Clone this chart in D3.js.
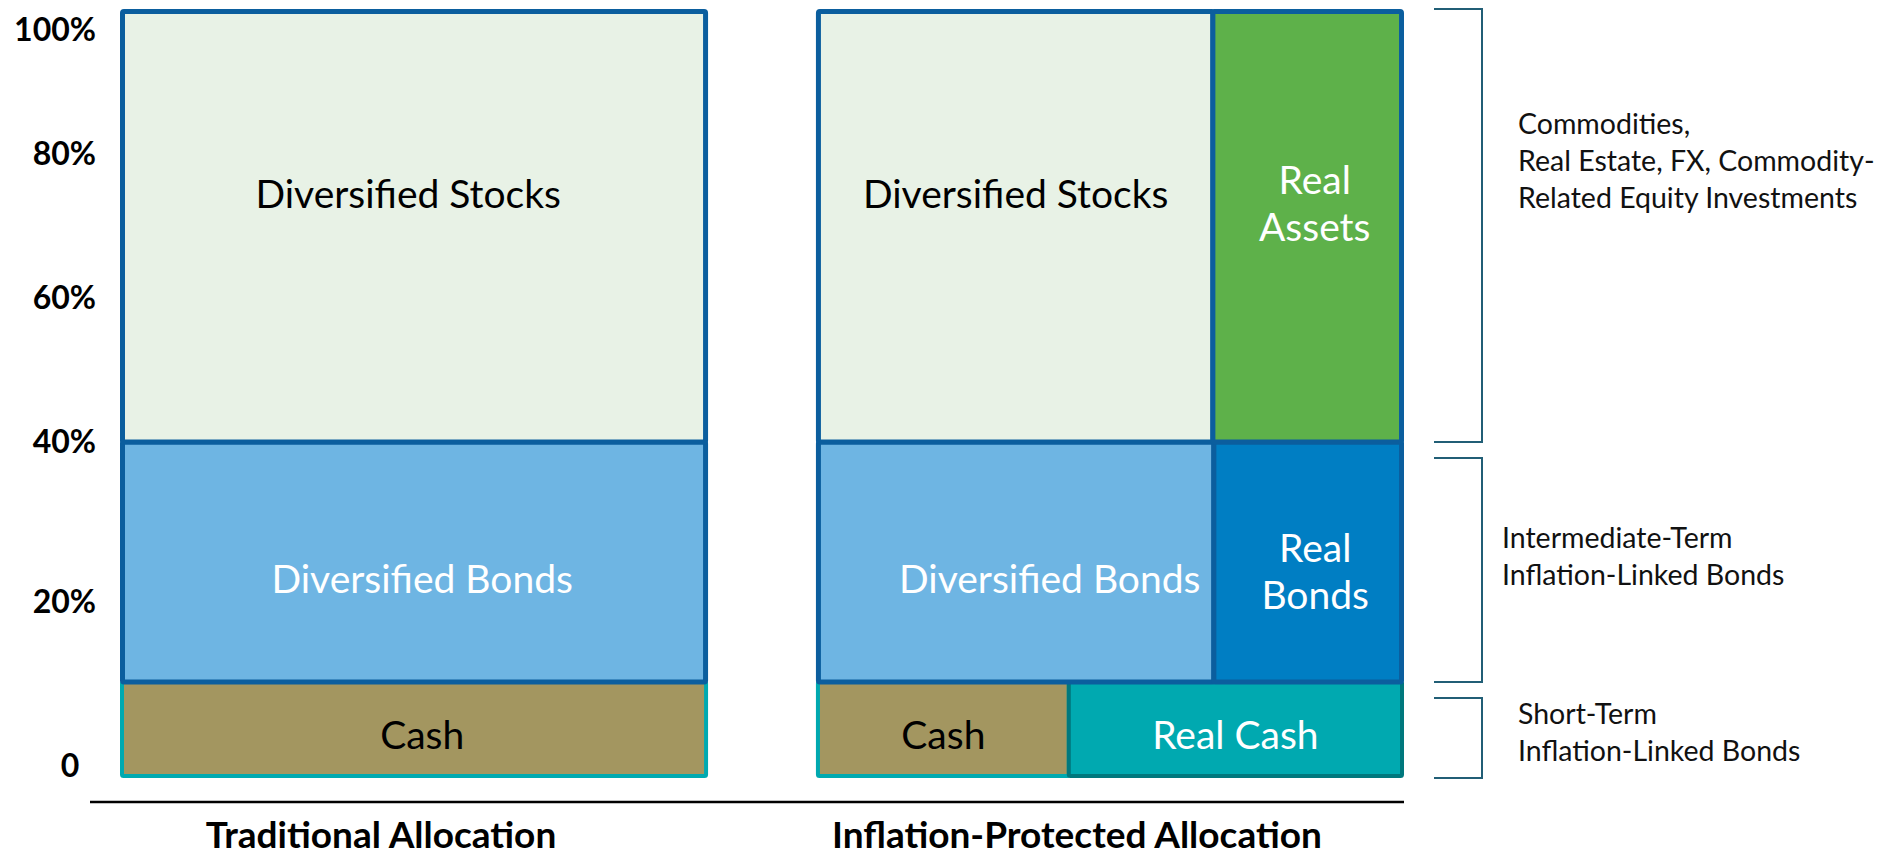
<!DOCTYPE html>
<html>
<head>
<meta charset="utf-8">
<script src="https://cdn.jsdelivr.net/npm/d3@7"></script>
<style>
  body { margin: 0; background: #fff; }
  text { font-family: Lato, "Open Sans", sans-serif; }
</style>
</head>
<body>
<script>
// the two portfolios, side by side
var allocations = ["Traditional Allocation", "Inflation-Protected Allocation"];

// tiers from bottom to top and their share of the portfolio (%)
var tiers = ["Cash", "Bonds", "Stocks"];
var tierShares = [10, 30, 60];

// traditional allocation: one block per tier
var traditionalLabels = ["Cash", "Diversified Bonds", "Diversified Stocks"];
var traditionalValues = [10, 30, 60];
var traditionalTier = [0, 1, 2];

// inflation-protected allocation: every tier is split in two
var protectedLabels = ["Cash", "Real Cash", "Diversified Bonds", "Real Bonds", "Diversified Stocks", "Real Assets"];
var protectedValues = [4.3, 5.7, 20.3, 9.7, 40.5, 19.5];
var protectedTier = [0, 0, 1, 1, 2, 2];

// y axis labels
var tickValues = [0, 20, 40, 60, 80, 100];

// brackets on the right (cumulative %)
var bracketFrom = [40, 10, 0];
var bracketTo = [100, 40, 10];
var bracketText = [
    ["Commodities,", "Real Estate, FX, Commodity-", "Related Equity Investments"],
    ["Intermediate-Term", "Inflation-Linked Bonds"],
    ["Short-Term", "Inflation-Linked Bonds"]
];

// ---- layout / style ----
var width = 1887, height = 858;
var plotTop = 9, plotBottom = 778;
var tierWeights = [0.125, 0.312, 0.563];   // drawn heights of the tiers (not to scale)

var fills = {
    "Diversified Stocks": "#E8F2E6",
    "Diversified Bonds": "#6EB5E3",
    "Cash": "#A39660",
    "Real Assets": "#5EB14A",
    "Real Bonds": "#007EC3",
    "Real Cash": "#00A9B0"
};
var strokes = { "Cash": "#00A9B0", "Real Cash": "#00787D" };
var darkText = { "Diversified Stocks": true, "Cash": true };
var wrapped = { "Real Assets": true, "Real Bonds": true };

// where the label sits inside its block [fraction across, fraction down]
var labelAnchor = {
    "Traditional Allocation|Diversified Stocks": [0.49, 0.425],
    "Traditional Allocation|Diversified Bonds": [0.514, 0.57],
    "Traditional Allocation|Cash": [0.514, 0.56],
    "Inflation-Protected Allocation|Diversified Stocks": [0.5, 0.425],
    "Inflation-Protected Allocation|Real Assets": [0.54, 0.447],
    "Inflation-Protected Allocation|Diversified Bonds": [0.585, 0.57],
    "Inflation-Protected Allocation|Real Bonds": [0.54, 0.54],
    "Inflation-Protected Allocation|Cash": [0.5, 0.56],
    "Inflation-Protected Allocation|Real Cash": [0.5, 0.56]
};
var bracketTextAt = [79, 25.7, 4.8];
var bracketTextDx = [0, -16, 0];

var svg = d3.select("body").append("svg")
    .attr("width", width)
    .attr("height", height);

var x = d3.scaleBand()
    .domain(allocations)
    .range([120, 1404])
    .paddingInner(0.155);
var bw = x.bandwidth();

// cumulative tier boundaries -> piecewise y scale
var cum = [0];
tierShares.forEach(function(s, i) { cum.push(cum[i] + s); });
var cumW = [0];
tierWeights.forEach(function(w, i) { cumW.push(cumW[i] + w); });
var y = d3.scaleLinear()
    .domain(cum)
    .range(cumW.map(function(w) { return plotBottom - w * (plotBottom - plotTop); }));

function buildSegments(alloc, labels, values, tierIdx) {
    var offset = {};
    return labels.map(function(label, i) {
        var t = tierIdx[i];
        var start = offset[t] || 0;
        offset[t] = start + values[i];
        return { alloc: alloc, label: label, tier: t, v0: start, v1: start + values[i] };
    });
}

var segments = buildSegments(allocations[0], traditionalLabels, traditionalValues, traditionalTier)
    .concat(buildSegments(allocations[1], protectedLabels, protectedValues, protectedTier));
segments.sort(function(a, b) { return a.tier - b.tier; });

// only the outer edges are pulled in by half a stroke, inner edges share one line
var eps = 1e-6;
segments.forEach(function(d) {
    var share = tierShares[d.tier];
    var xs = d3.scaleLinear().domain([0, share]).range([x(d.alloc), x(d.alloc) + bw]);
    d.sw = d.tier === 0 ? 4 : 5;
    var h = d.sw / 2;
    d.x0 = xs(d.v0) + (d.v0 < eps ? h : 0);
    d.x1 = xs(d.v1) - (d.v1 > share - eps ? h : 0);
    d.y0 = y(cum[d.tier + 1]) + (d.tier === tiers.length - 1 ? h : 0);
    d.y1 = y(cum[d.tier]) - (d.tier === 0 ? h : 0);
});

var blocks = svg.append("g").selectAll("g.block")
    .data(segments)
    .enter().append("g")
    .attr("class", "block");

blocks.append("rect")
    .attr("x", function(d) { return d.x0; })
    .attr("y", function(d) { return d.y0; })
    .attr("width", function(d) { return d.x1 - d.x0; })
    .attr("height", function(d) { return d.y1 - d.y0; })
    .attr("rx", 1.5)
    .attr("fill", function(d) { return fills[d.label]; })
    .attr("stroke", function(d) { return strokes[d.label] || "#0B5E9E"; })
    .attr("stroke-width", function(d) { return d.sw; });

var labelSize = 39;
blocks.append("text")
    .attr("text-anchor", "middle")
    .attr("font-size", labelSize)
    .attr("fill", function(d) { return darkText[d.label] ? "#000" : "#fff"; })
    .each(function(d) {
        var a = labelAnchor[d.alloc + "|" + d.label];
        var cx = d.x0 + a[0] * (d.x1 - d.x0);
        var cy = d.y0 + a[1] * (d.y1 - d.y0);
        var lines = wrapped[d.label] ? d.label.split(" ") : [d.label];
        var lh = 47;
        var first = cy - (lines.length - 1) * lh / 2 + 0.36 * labelSize;
        d3.select(this).selectAll("tspan")
            .data(lines)
            .enter().append("tspan")
            .attr("x", cx)
            .attr("y", function(l, i) { return first + i * lh; })
            .text(function(l) { return l; });
    });

// y axis labels
var tickSize = 32;
var yAxis = d3.axisLeft(y)
    .tickValues(tickValues)
    .tickSize(0)
    .tickPadding(0)
    .tickFormat(function(d) { return d === 0 ? "0" : d + "%"; });

var axisG = svg.append("g")
    .attr("transform", "translate(96,0)")
    .call(yAxis);
axisG.select(".domain").remove();
axisG.selectAll(".tick")
    .attr("transform", function(d) {
        var yy = Math.max(plotTop + 20, Math.min(plotBottom - 13, y(d)));
        return "translate(0," + yy + ")";
    });
axisG.selectAll(".tick text")
    .attr("font-family", "Lato, 'Open Sans', sans-serif")
    .attr("font-size", tickSize)
    .attr("font-weight", "bold")
    .attr("fill", "#000")
    .attr("dy", "0.36em")
    .attr("x", function(d) { return d === 0 ? -26 : 0; })
    .attr("text-anchor", function(d) { return d === 0 ? "middle" : "end"; });

// base rule
svg.append("line")
    .attr("x1", 90)
    .attr("x2", x(allocations[1]) + bw)
    .attr("y1", plotBottom + 24)
    .attr("y2", plotBottom + 24)
    .attr("stroke", "#000")
    .attr("stroke-width", 2.5);

// allocation titles
var titleSize = 37;
svg.selectAll("text.title")
    .data(allocations)
    .enter().append("text")
    .attr("class", "title")
    .attr("x", function(d) { return x(d) + bw / 2 - 33; })
    .attr("y", 848)
    .attr("text-anchor", "middle")
    .attr("font-size", titleSize)
    .attr("font-weight", "bold")
    .attr("fill", "#000")
    .text(function(d) { return d; });

// brackets and notes
var bx0 = x(allocations[1]) + bw + 30, bx1 = bx0 + 48;
var noteSize = 28.5, noteLh = 37;
bracketFrom.forEach(function(lo, i) {
    var hi = bracketTo[i];
    var top = y(hi) + (hi < 100 ? 16 : 0);
    var bot = y(lo);
    svg.append("path")
        .attr("d", "M" + bx0 + "," + top + "H" + bx1 + "V" + bot + "H" + bx0)
        .attr("fill", "none")
        .attr("stroke", "#215E76")
        .attr("stroke-width", 2);

    var lines = bracketText[i];
    var c = y(bracketTextAt[i]);
    var first = c - (lines.length - 1) * noteLh / 2 + 0.36 * noteSize;
    var t = svg.append("text")
        .attr("font-size", noteSize)
        .attr("fill", "#111");
    t.selectAll("tspan")
        .data(lines)
        .enter().append("tspan")
        .attr("x", bx1 + 36 + bracketTextDx[i])
        .attr("y", function(l, j) { return first + j * noteLh; })
        .text(function(l) { return l; });
});
</script>
</body>
</html>
